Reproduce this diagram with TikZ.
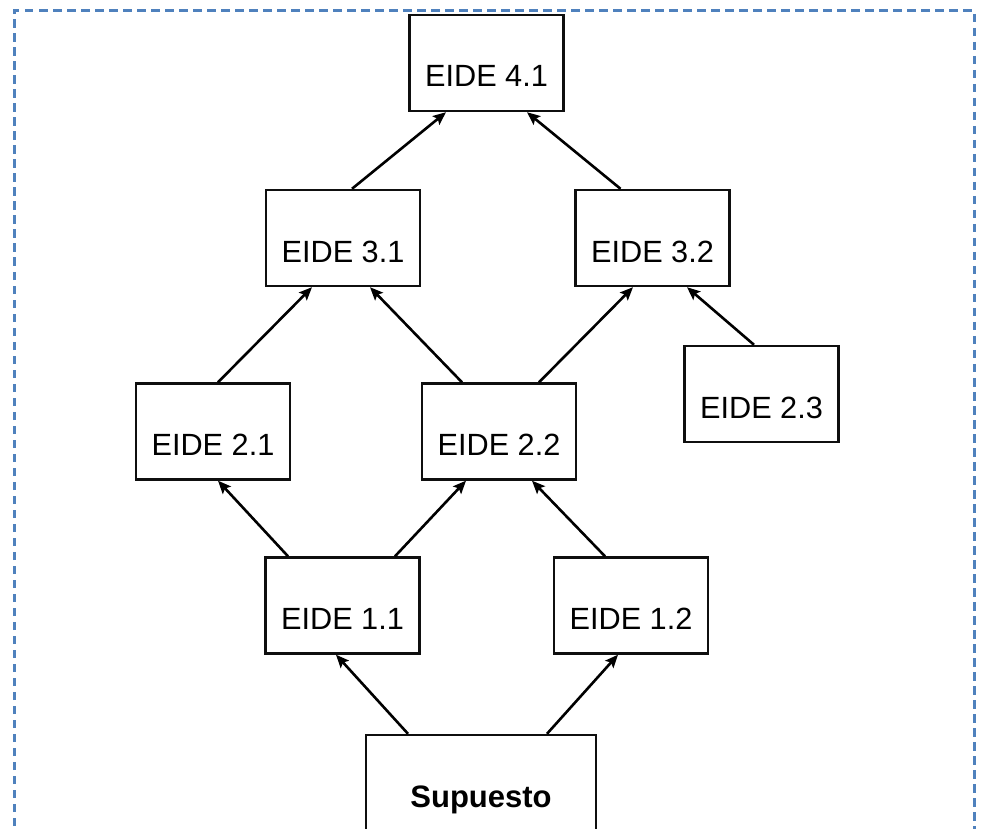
\documentclass[tikz,border=0pt]{standalone}
\usepackage{fontspec}
\setmainfont{Liberation Sans}
\usetikzlibrary{arrows.meta}
\definecolor{frameblue}{RGB}{79,129,189}
\definecolor{boxline}{RGB}{15,15,15}
\tikzset{
  eide/.style={draw=boxline, line width=2.4pt, inner sep=0pt, minimum width=154pt,
    text height=72pt, text depth=24pt, font=\fontsize{30.7}{36}\selectfont},
  supbox/.style={draw=boxline, line width=2.4pt, inner sep=0pt, minimum width=230pt,
    text height=72pt, text depth=30pt, font=\fontsize{31}{36}\selectfont\bfseries},
  arr/.style={draw=black, line width=2.6pt, -{Stealth[length=13pt,width=11pt,inset=2.5pt]}},
  frame/.style={draw=frameblue, line width=3pt, dash pattern=on 8.5pt off 5.5pt}
}
\begin{document}
\begin{tikzpicture}[x=1pt,y=-1pt]
\useasboundingbox (0,0) rectangle (983,829);
\clip (0,0) rectangle (983,829);
\coordinate (fbl) at (14,840);
\coordinate (ftl) at (14,11);
\coordinate (ftr) at (974,11);
\coordinate (fbr) at (974,840);
\draw[frame] (fbl) -- (ftl) -- (ftr) -- (fbr);

\node[eide] (n41) at (486.5,63) {EIDE 4.1};
\node[eide] (n31) at (343,238) {EIDE 3.1};
\node[eide] (n32) at (652.5,238) {EIDE 3.2};
\node[eide] (n21) at (213,431.5) {EIDE 2.1};
\node[eide] (n22) at (499,431.5) {EIDE 2.2};
\node[eide] (n23) at (761.5,394) {EIDE 2.3};
\node[eide] (n11) at (342.5,605.5) {EIDE 1.1};
\node[eide] (n12) at (631,605.5) {EIDE 1.2};
\node[supbox] (sup) at (481,786) {Supuesto};

\draw[arr] ([xshift=9pt]n31.north) -- ([xshift=-40.5pt]n41.south);
\draw[arr] ([xshift=-32pt]n32.north) -- ([xshift=40.5pt]n41.south);
\draw[arr] ([xshift=5pt]n21.north) -- ([xshift=-31pt]n31.south);
\draw[arr] ([xshift=-37pt]n22.north) -- ([xshift=27pt]n31.south);
\draw[arr] ([xshift=40pt]n22.north) -- ([xshift=-19.5pt]n32.south);
\draw[arr] ([xshift=-7.5pt]n23.north) -- ([xshift=34.5pt]n32.south);
\draw[arr] ([xshift=-54.5pt]n11.north) -- ([xshift=5pt]n21.south);
\draw[arr] ([xshift=52.5pt]n11.north) -- ([xshift=-33pt]n22.south);
\draw[arr] ([xshift=-26pt]n12.north) -- ([xshift=33pt]n22.south);
\draw[arr] ([xshift=-73pt]sup.north) -- ([xshift=-6.5pt]n11.south);
\draw[arr] ([xshift=66pt]sup.north) -- ([xshift=-13pt]n12.south);
\end{tikzpicture}
\end{document}
